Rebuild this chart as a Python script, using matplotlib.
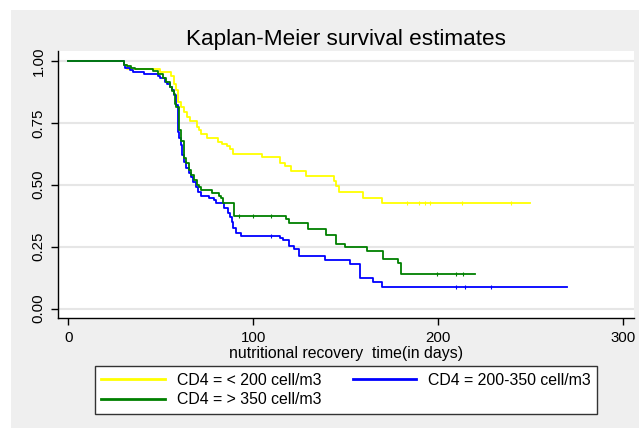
import matplotlib as mpl
mpl.use('Agg')
import matplotlib.pyplot as plt
from matplotlib.patches import Rectangle
import numpy as np

plt.rcParams['font.family'] = ['Liberation Sans', 'DejaVu Sans']

# step points: (time of drop, survival after drop)
low_t = [30, 32, 49.5, 55.7, 57.2, 58.4, 59.6, 61.1, 62.4, 64.2, 66, 69.8, 71, 72, 75,
         81, 83, 85.8, 87.6, 89.2, 104.8, 114.6, 117.4, 120.5, 128.6, 143.8, 144.6,
         146.6, 159.7, 169.7]
low_s = [0.983, 0.969, 0.957, 0.94, 0.905, 0.882, 0.835, 0.812, 0.792, 0.775, 0.758,
         0.735, 0.72, 0.703, 0.69, 0.673, 0.666, 0.655, 0.645, 0.625, 0.613, 0.588,
         0.574, 0.555, 0.535, 0.515, 0.495, 0.472, 0.448, 0.425]
low_end = 250
low_cens = [183.5, 189.8, 193, 195.7, 212.8, 239.6]

mid_t = [30, 31, 33.2, 35, 41, 48.5, 49.8, 52.1, 53.4, 54.8, 56.2, 57.5, 58.4, 59.3,
         60.2, 61.1, 61.7, 62.9, 63.8, 65.2, 66.5, 67.6, 69, 70.3, 71.9, 75.9, 78.6,
         80, 84.5, 86.7, 87.7, 88.6, 89.3, 90.8, 93.5, 114.6, 116.4, 119.6, 122.3,
         124.6, 138.9, 152.4, 157.8, 164.9, 169.8]
mid_s = [0.985, 0.972, 0.962, 0.956, 0.946, 0.94, 0.929, 0.915, 0.905, 0.893, 0.882,
         0.862, 0.821, 0.714, 0.687, 0.66, 0.62, 0.593, 0.566, 0.546, 0.532, 0.512,
         0.49, 0.472, 0.454, 0.445, 0.438, 0.425, 0.407, 0.387, 0.368, 0.351, 0.324,
         0.306, 0.294, 0.286, 0.277, 0.253, 0.241, 0.214, 0.196, 0.18, 0.125, 0.109,
         0.089]
mid_end = 270
mid_cens = [109.7, 209.9, 214.6, 228.8]

high_t = [30, 31.8, 34, 36.4, 45.8, 48.5, 51.2, 53, 54.8, 56, 57.1, 57.9, 58.4, 59.7,
          61, 62.4, 63.5, 65.1, 66.6, 68.3, 69.5, 70.5, 71.6, 77.6, 81.8, 82.7, 83.6,
          89.9, 117.8, 119.4, 129.5, 139.7, 144.8, 149.7, 161.7, 170, 178.6, 179.9]
high_s = [0.985, 0.979, 0.972, 0.966, 0.96, 0.949, 0.929, 0.915, 0.895, 0.88, 0.865,
          0.824, 0.815, 0.72, 0.675, 0.606, 0.588, 0.559, 0.54, 0.519, 0.5, 0.489,
          0.479, 0.465, 0.454, 0.445, 0.427, 0.375, 0.36, 0.344, 0.32, 0.296, 0.261,
          0.249, 0.231, 0.2, 0.183, 0.14]
high_end = 220
high_cens = [92.6, 99.8, 109.7, 199.7, 209.9, 213.7]

# drawing order: yellow, blue, green (green ends up on top)
groups = [
    ("CD4 = < 200 cell/m3", '#ffff00', low_t, low_s, low_end, low_cens),
    ("CD4 = 200-350 cell/m3", '#0000ff', mid_t, mid_s, mid_end, mid_cens),
    ("CD4 = > 350 cell/m3", '#008000', high_t, high_s, high_end, high_cens),
]

fig = plt.figure(figsize=(6.39, 4.28), dpi=100, facecolor='white')
fig.patches.append(Rectangle((11 / 639, 0), 1, 1 - 10 / 428, transform=fig.transFigure,
                             facecolor='#efefef', edgecolor='none', zorder=-10))
ax = fig.add_axes([58 / 639, 1 - 318 / 428, 576 / 639, 267 / 428])
ax.set_facecolor('white')

handles = {}
for name, col, t, s, end, cens in groups:
    tt = np.concatenate([[0], t, [end]])
    ss = np.concatenate([[1.0], s, [s[-1]]])
    ln, = ax.step(tt, ss, where='post', color=col, lw=1.3, label=name)
    cy = ss[np.searchsorted(tt, cens, side='right') - 1]
    ax.plot(cens, cy, ls='none', marker='|', ms=3, mew=0.8, color=col)
    handles[name] = ln

ax.set_xlim(-5.5, 306)
ax.set_ylim(-0.038, 1.04)
ax.set_xticks([0, 100, 200, 300])
ax.set_yticks([0, 0.25, 0.5, 0.75, 1.0])
ax.set_yticklabels(['0.00', '0.25', '0.50', '0.75', '1.00'], rotation=90, va='center')
ax.tick_params(axis='both', labelsize=10.8, length=5, width=1, direction='out')
ax.tick_params(axis='y', pad=4)
ax.tick_params(axis='x', pad=4)
ax.grid(axis='y', color='#e6e6e6', lw=1.5)
ax.set_axisbelow(True)
for sp in ['top', 'right']:
    ax.spines[sp].set_visible(False)
for sp in ['left', 'bottom']:
    ax.spines[sp].set_linewidth(1)

ax.set_title("Kaplan-Meier survival estimates", fontsize=16.2, pad=4)
ax.set_xlabel("nutritional recovery  time(in days)", fontsize=11.4, labelpad=1)

order = ["CD4 = < 200 cell/m3", "CD4 = > 350 cell/m3", "CD4 = 200-350 cell/m3"]
leg = fig.legend([handles[n] for n in order], order, ncol=2, loc='center',
                 bbox_to_anchor=(346 / 639, 1 - 390 / 428), fontsize=11.4,
                 frameon=True, fancybox=False, edgecolor='#333333', framealpha=1,
                 handlelength=4.0, handletextpad=0.75, columnspacing=2.0,
                 labelspacing=0.3, borderpad=0.4)
leg.get_frame().set_linewidth(1)
for l in leg.get_lines():
    l.set_linewidth(2)

plt.savefig("out.png", dpi=100, facecolor=fig.get_facecolor())
